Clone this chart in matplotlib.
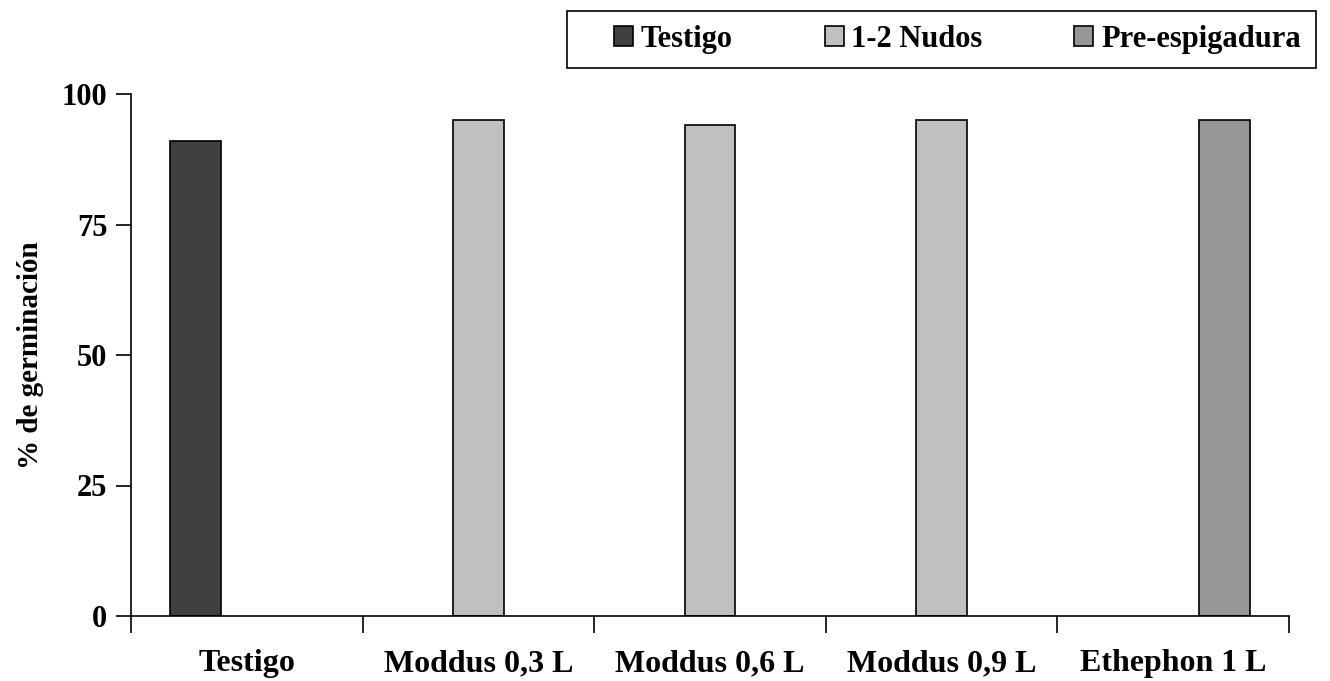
import matplotlib
matplotlib.use('Agg')
import matplotlib.pyplot as plt
from matplotlib.patches import Rectangle
import numpy as np

# datos del gráfico
categorias = ['Testigo', 'Moddus 0,3 L', 'Moddus 0,6 L', 'Moddus 0,9 L', 'Ethephon 1 L']
testigo = [91, np.nan, np.nan, np.nan, np.nan]
nudos = [np.nan, 95, 94, 95, np.nan]
pre_espigadura = [np.nan, np.nan, np.nan, np.nan, 95]
series = ['Testigo', '1-2 Nudos', 'Pre-espigadura']
colores = ['#404040', '#c0c0c0', '#969696']

plt.rcParams['font.family'] = ['Liberation Serif', 'DejaVu Serif']
plt.rcParams['font.weight'] = 'bold'

W, H = 1330, 681
fig = plt.figure(figsize=(W / 100, H / 100), dpi=100)
ax = fig.add_axes([131 / W, 1 - 616 / H, (1289 - 131) / W, (616 - 94) / H])

x = np.arange(len(categorias))
ancho = 0.22
for i, (vals, nombre, c) in enumerate(zip([testigo, nudos, pre_espigadura], series, colores)):
    ax.bar(x + (i - 1) * ancho, vals, width=ancho, color=c, edgecolor='black',
           linewidth=1.2, label=nombre)

ax.set_xlim(-0.5, len(categorias) - 0.5)
ax.set_ylim(0, 100)
ax.set_yticks([0, 25, 50, 75, 100])
ax.tick_params(axis='y', direction='out', length=11, width=1.2, labelsize=22, pad=6)

# marcas en los limites de categoria, etiquetas en el centro
ax.set_xticks(np.arange(len(categorias) + 1) - 0.5)
ax.set_xticklabels([])
ax.set_xticks(x, minor=True)
ax.set_xticklabels(categorias, minor=True, fontsize=23, fontweight='bold')
ax.tick_params(axis='x', which='major', direction='out', length=12, width=1.2)
ax.tick_params(axis='x', which='minor', length=0, pad=24)

for s in ['top', 'right']:
    ax.spines[s].set_visible(False)
for s in ['left', 'bottom']:
    ax.spines[s].set_linewidth(1.2)

ax.set_ylabel('% de germinación', fontsize=21, fontweight='bold', labelpad=13)

# leyenda con marco aparte
leg = fig.legend(loc='center right', bbox_to_anchor=(1301 / W, 1 - 39.5 / H), ncol=3,
                 fontsize=22, frameon=False,
                 handlelength=0.62, handleheight=0.62, handletextpad=0.26,
                 columnspacing=3.0, borderpad=0, borderaxespad=0)
fig.patches.append(Rectangle((567 / W, 1 - 68 / H), (1316 - 567) / W, 57 / H,
                             transform=fig.transFigure, facecolor='none',
                             edgecolor='black', linewidth=1.2))

fig.savefig('out.png', dpi=100, facecolor='white')
